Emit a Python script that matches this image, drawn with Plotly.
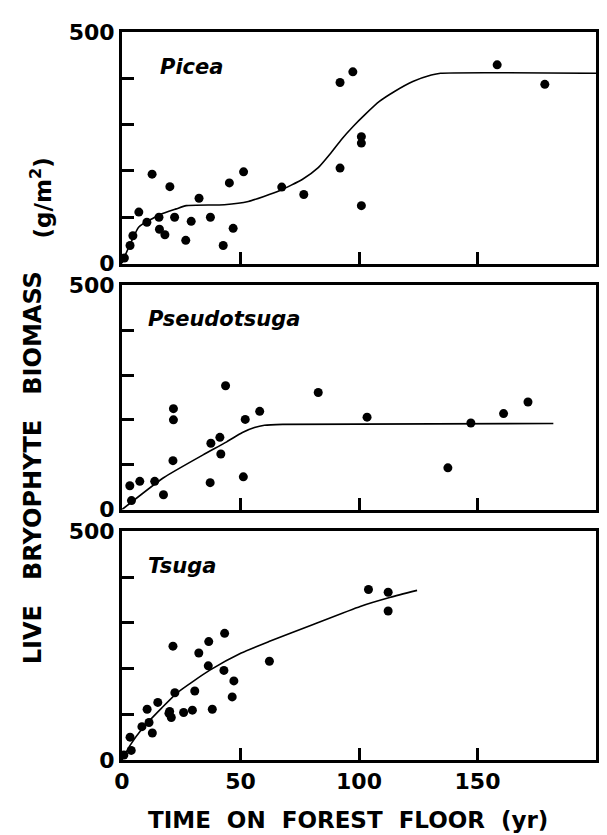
import plotly.graph_objects as go

# ---- data ----
picea_x = [1, 3.4, 4.6, 7.1, 10.5, 12.7, 15.6, 15.8, 18.1, 20.2, 22.2, 26.9, 29.2, 32.5, 37.3, 42.7, 45.3, 46.9,
           51.3, 67.4, 76.7, 92, 92, 97.4, 101, 101, 101, 158.3, 178.4]
picea_y = [12, 39, 60, 111, 89, 193, 100, 74, 62, 166, 100, 50, 91, 141, 100, 39, 174, 76,
           198, 165, 149, 206, 391, 414, 274, 260, 125, 429, 387]
picea_fit_x = [0, 0.8, 4.2, 7.1, 16.1, 22.9, 27.1, 43.2, 53.3, 66.4, 76.2, 82.8, 87.7, 92.6, 97.5, 102.4,
               108.6, 114.8, 122.7, 130.5, 134.4, 200]
picea_fit_y = [0, 11, 50, 79, 106, 118, 125, 127, 134, 157, 182, 207, 236, 268, 296, 321,
               350, 371, 393, 407, 411, 411]

pseudo_x = [4, 3.3, 7.5, 13.8, 17.5, 21.5, 21.7, 21.7, 37.2, 37.5, 41.3, 41.7, 43.7, 51.2, 52, 58.1,
            82.8, 103.4, 137.5, 147.2, 161, 171.3]
pseudo_y = [20, 53, 63, 63, 33, 109, 200, 225, 60, 148, 161, 124, 276, 73, 201, 219,
            261, 206, 93, 193, 214, 240]
pseudo_fit_x = [0, 17.5, 34.2, 44.2, 50.8, 55.9, 60.1, 67.8, 182]
pseudo_fit_y = [0, 71, 122, 151, 172, 183, 188, 190, 192]

tsuga_x = [0.8, 3.9, 3.4, 8.4, 10.6, 11.4, 12.8, 15.1, 19.8, 20.8, 20.1, 21.5, 22.3, 26, 29.7, 30.7,
           32.4, 36.4, 36.6, 38.1, 43, 43.3, 46.5, 47.2, 62.2, 104, 112.3, 112.3]
tsuga_y = [11, 21, 50, 73, 111, 82, 59, 126, 102, 93, 106, 249, 147, 104, 109, 151,
           234, 206, 259, 111, 196, 277, 138, 173, 216, 373, 367, 326]
tsuga_fit_x = [0, 3.4, 8.4, 16.8, 23.5, 36.9, 50.3, 62, 80.4, 100.5, 113.3, 124.5]
tsuga_fit_y = [0, 32, 68, 114, 148, 196, 234, 259, 296, 336, 356, 371]

panel_names = ["Picea", "Pseudotsuga", "Tsuga"]
x_tickvals = [0, 50, 100, 150, 200]
x_ticktext = ["0", "50", "100", "150", "200"]
y_label_vals = [0, 500]
y_label_text = ["0", "500"]
y_minor_vals = [100, 200, 300, 400]

panels = [
    (picea_x, picea_y, picea_fit_x, picea_fit_y),
    (pseudo_x, pseudo_y, pseudo_fit_x, pseudo_fit_y),
    (tsuga_x, tsuga_y, tsuga_fit_x, tsuga_fit_y),
]
domains = [[0.682, 1.0], [0.344, 0.652], [0.0, 0.314]]

FONT = "DejaVu Sans"
NB = "\u00a0"
fig = go.Figure()
layout = dict(
    width=607, height=835,
    margin=dict(l=114, r=19, t=20, b=83),
    paper_bgcolor="white", plot_bgcolor="white",
    showlegend=False,
    font=dict(family=FONT, color="black"),
)

axis_common = dict(
    showline=True, linewidth=3, linecolor="black", mirror=True,
    ticks="inside", ticklen=12, tickwidth=3, tickcolor="black",
    showgrid=False, zeroline=False,
    tickfont=dict(family=FONT, size=22, color="black", weight="bold"),
)

annotations = []
for i, (px, py, fx, fy) in enumerate(panels):
    n = i + 1
    xa = "x" if n == 1 else f"x{n}"
    ya = "y" if n == 1 else f"y{n}"
    fig.add_trace(go.Scatter(x=fx, y=fy, mode="lines", xaxis=xa, yaxis=ya,
                             line=dict(color="black", width=1.6, shape="spline", smoothing=0.5),
                             hoverinfo="skip"))
    fig.add_trace(go.Scatter(x=px, y=py, mode="markers", xaxis=xa, yaxis=ya, cliponaxis=False,
                             marker=dict(color="black", size=9)))
    xkey = "xaxis" if n == 1 else f"xaxis{n}"
    ykey = "yaxis" if n == 1 else f"yaxis{n}"
    layout[xkey] = dict(axis_common, domain=[0, 1], range=[0, 200], anchor=ya,
                        tickmode="array", tickvals=x_tickvals, ticktext=x_ticktext,
                        showticklabels=(n == 3))
    if n != 1:
        layout[xkey]["matches"] = "x"
    layout[ykey] = dict(axis_common, domain=domains[i], range=[0, 500], anchor=xa,
                        tickmode="array", tickvals=y_label_vals, ticktext=y_label_text,
                        minor=dict(tickmode="array", tickvals=y_minor_vals, ticks="inside",
                                   ticklen=12, tickwidth=3, tickcolor="black", showgrid=False))
    annotations.append(dict(
        text=f"<b><i>{panel_names[i]}</i></b>", xref=xa, yref=ya, x=10 if n > 1 else 15, y=425,
        xanchor="left", yanchor="middle", showarrow=False,
        font=dict(family=FONT, size=21, color="black")))

sp2 = NB * 2
sp3 = NB * 3
annotations.append(dict(
    text=f"<b>TIME{sp2}ON{sp2}FOREST{sp2}FLOOR{sp2}(yr)</b>", xref="paper", yref="paper",
    x=0.477, y=-0.082, xanchor="center", yanchor="middle", showarrow=False,
    font=dict(family=FONT, size=23, color="black")))
annotations.append(dict(
    text=f"<b>LIVE{sp3}BRYOPHYTE{sp3}BIOMASS</b>", xref="paper", yref="paper", textangle=-90,
    x=-0.188, y=0.402, xanchor="center", yanchor="middle", showarrow=False,
    font=dict(family=FONT, size=24, color="black")))
annotations.append(dict(
    text="<b>(g/m<sup>2</sup>)</b>", xref="paper", yref="paper", textangle=-90,
    x=-0.17, y=0.772, xanchor="center", yanchor="middle", showarrow=False,
    font=dict(family=FONT, size=23, color="black")))

layout["annotations"] = annotations
fig.update_layout(**layout)
fig.write_html("out.html")
